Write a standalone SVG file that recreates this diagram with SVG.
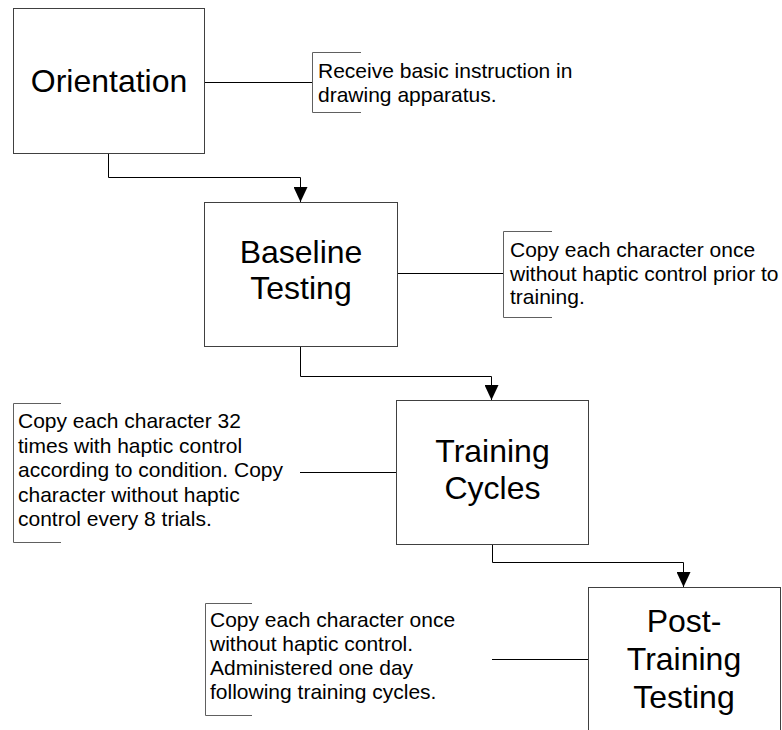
<svg xmlns="http://www.w3.org/2000/svg" width="782" height="730" viewBox="0 0 782 730">
<style>
.box{fill:#fff;stroke:#404040;stroke-width:1}
.big{font-family:"Liberation Sans",Arial,sans-serif;font-size:32px;fill:#000;text-anchor:middle}
.note{font-family:"Liberation Sans",Arial,sans-serif;font-size:21px;fill:#000}
.brk{fill:none;stroke:#606060;stroke-width:1}
.con{fill:none;stroke:#000;stroke-width:1}
</style>
<defs>
<marker id="ah" viewBox="0 0 15 14" refX="15" refY="7" markerWidth="15" markerHeight="14" markerUnits="userSpaceOnUse" orient="auto">
<path d="M0,0 L15,7 L0,14 z" fill="#000"/>
</marker>
</defs>
<rect width="782" height="730" fill="#fff"/>
<g id="connectors">
<path class="con" d="M108.5,153 V177.5 H300.5 V202" marker-end="url(#ah)"/>
<path class="con" d="M300.5,346 V376.5 H491.5 V400" marker-end="url(#ah)"/>
<path class="con" d="M492.5,544 V562.5 H683.5 V587" marker-end="url(#ah)"/>
<path class="con" d="M204,82.5 H312.5"/>
<path class="con" d="M397,273.5 H503.5"/>
<path class="con" d="M300,472.5 H396"/>
<path class="con" d="M492,659.5 H588"/>
</g>
<g id="orientation">
<rect class="box" x="13.5" y="8.5" width="191" height="145"/>
<text class="big" x="109" y="92">Orientation</text>
</g>
<g id="baseline">
<rect class="box" x="204.5" y="202.5" width="193" height="144"/>
<text class="big" x="301" y="263">Baseline</text>
<text class="big" x="301" y="299">Testing</text>
</g>
<g id="training">
<rect class="box" x="396.5" y="400.5" width="192" height="144"/>
<text class="big" x="492.5" y="462">Training</text>
<text class="big" x="492.5" y="499">Cycles</text>
</g>
<g id="post">
<rect class="box" x="588.5" y="587.5" width="192" height="170"/>
<text class="big" x="684" y="632">Post-</text>
<text class="big" x="684" y="670">Training</text>
<text class="big" x="684" y="708">Testing</text>
</g>
<g id="note-orientation">
<path class="brk" d="M361,52.5 H312.5 V112.5 H361"/>
<text class="note" x="318" y="78">Receive basic instruction in</text>
<text class="note" x="318" y="102">drawing apparatus.</text>
</g>
<g id="note-baseline">
<path class="brk" d="M552,231.5 H503.5 V317.5 H552"/>
<text class="note" x="510" y="257">Copy each character once</text>
<text class="note" x="510" y="280.5">without haptic control prior to</text>
<text class="note" x="510" y="304">training.</text>
</g>
<g id="note-training">
<path class="brk" d="M61,403.5 H13.5 V542.5 H61"/>
<text class="note" x="18" y="428">Copy each character 32</text>
<text class="note" x="18" y="452.5">times with haptic control</text>
<text class="note" x="18" y="477">according to condition. Copy</text>
<text class="note" x="18" y="501.5">character without haptic</text>
<text class="note" x="18" y="526">control every 8 trials.</text>
</g>
<g id="note-post">
<path class="brk" d="M252,603.5 H205.5 V715.5 H252"/>
<text class="note" x="210" y="627">Copy each character once</text>
<text class="note" x="210" y="651">without haptic control.</text>
<text class="note" x="210" y="675">Administered one day</text>
<text class="note" x="210" y="699">following training cycles.</text>
</g>
</svg>
